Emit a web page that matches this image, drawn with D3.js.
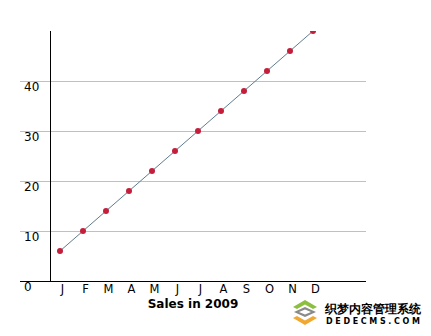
<!DOCTYPE html>
<html>
<head>
<meta charset="utf-8">
<script src="https://cdn.jsdelivr.net/npm/d3@7"></script>
<style>
  body { margin: 0; background: #fff; }
  text { font-family: "DejaVu Sans", Verdana, sans-serif; }
</style>
</head>
<body>
<div id="chart"></div>
<script>
// data
var months = ["J", "F", "M", "A", "M2", "J2", "J3", "A2", "S", "O", "N", "D"];
var monthLabels = ["J", "F", "M", "A", "M", "J", "J", "A", "S", "O", "N", "D"];
var sales = [6, 10, 14, 18, 22, 26, 30, 34, 38, 42, 46, 50];
var yTicks = [0, 10, 20, 30, 40];

var svgWidth = 431;
var svgHeight = 336;

var svg = d3.select("#chart")
  .append("svg")
  .attr("width", svgWidth)
  .attr("height", svgHeight);

// scales
var x = d3.scalePoint().domain(months).range([60, 313]);
var y = d3.scaleLinear().domain([0, 50]).range([281, 31]);

var gridLeft = 20, gridRight = 366, axisX = 50;

// clip so the top point is cut at the axis top like the original
svg.append("clipPath").attr("id", "plotClip")
  .append("rect")
  .attr("x", axisX).attr("y", y(50))
  .attr("width", gridRight - axisX).attr("height", y(0) - y(50));

// gridlines
svg.append("g")
  .selectAll("line")
  .data(yTicks.filter(d => d > 0))
  .enter()
  .append("line")
  .attr("x1", gridLeft)
  .attr("x2", gridRight)
  .attr("y1", d => y(d) + 0.5)
  .attr("y2", d => y(d) + 0.5)
  .attr("stroke", "#c0c0c0")
  .attr("stroke-width", 1);

// y tick labels (sit below their gridline)
svg.append("g")
  .selectAll("text")
  .data(yTicks)
  .enter()
  .append("text")
  .attr("x", 24)
  .attr("y", d => y(d) + 10)
  .attr("font-size", 12)
  .attr("fill", "#000")
  .text(d => d);

// axes
svg.append("line")
  .attr("x1", gridLeft).attr("x2", gridRight)
  .attr("y1", y(0) + 0.5).attr("y2", y(0) + 0.5)
  .attr("stroke", "#000");
svg.append("line")
  .attr("x1", axisX + 0.5).attr("x2", axisX + 0.5)
  .attr("y1", y(50)).attr("y2", y(0))
  .attr("stroke", "#000");

// month labels
svg.append("g")
  .selectAll("text")
  .data(months)
  .enter()
  .append("text")
  .attr("x", d => x(d) + 2.5)
  .attr("y", 293)
  .attr("text-anchor", "middle")
  .attr("font-size", 11.5)
  .text((d, i) => monthLabels[i]);

// axis title
svg.append("text")
  .attr("x", 193)
  .attr("y", 308)
  .attr("text-anchor", "middle")
  .attr("font-size", 12)
  .attr("font-weight", "bold")
  .text("Sales in 2009");

// line + points
var plot = svg.append("g").attr("clip-path", "url(#plotClip)");
var line = d3.line()
  .x((d, i) => x(months[i]))
  .y(d => y(d));

plot.append("path")
  .datum(sales)
  .attr("d", line)
  .attr("fill", "none")
  .attr("stroke", "#5f7d8f")
  .attr("stroke-width", 1);

plot.selectAll("circle")
  .data(sales)
  .enter()
  .append("circle")
  .attr("cx", (d, i) => x(months[i]))
  .attr("cy", d => y(d))
  .attr("r", 3)
  .attr("fill", "#c41e3a");

// watermark logo bottom right
var wm = svg.append("g").attr("transform", "translate(305,312)");
var chevronUp = "M-12,1 L0,-6 L12,1 L8,3 L0,-1.5 L-8,3 Z";
var chevronDown = "M-12,-1 L0,6 L12,-1 L8,-3 L0,1.5 L-8,-3 Z";
wm.append("path").attr("d", chevronUp).attr("transform", "translate(0,-6)").attr("fill", "#8cbf3f");
wm.append("path").attr("d", "M-11,0 L0,-5 L11,0 L0,5 Z").attr("fill", "#8a8a8a");
wm.append("path").attr("d", "M-6,0 L0,-2.5 L6,0 L0,2.5 Z").attr("fill", "#fff");
wm.append("path").attr("d", chevronDown).attr("transform", "translate(0,7)").attr("fill", "#f0a830");

svg.append("text")
  .attr("x", 325).attr("y", 313)
  .attr("font-family", "'Noto Sans CJK SC', sans-serif")
  .attr("font-size", 12)
  .attr("font-weight", "bold")
  .attr("textLength", 96)
  .text("织梦内容管理系统");
svg.append("text")
  .attr("x", 326).attr("y", 324)
  .attr("font-size", 8)
  .attr("font-weight", "bold")
  .attr("textLength", 94)
  .text("DEDECMS.COM");
</script>
</body>
</html>
